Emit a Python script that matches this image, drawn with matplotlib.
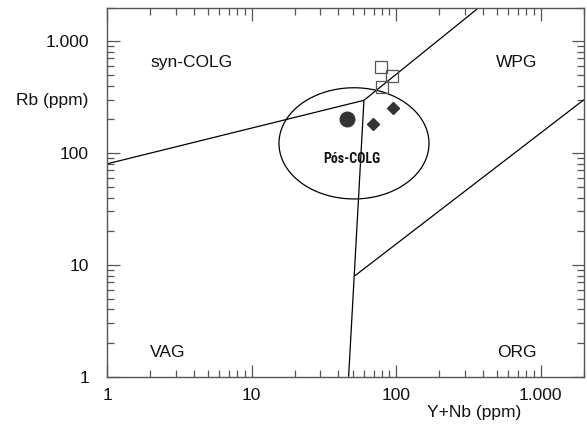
import numpy as np
import matplotlib
matplotlib.use("Agg")
import matplotlib.pyplot as plt
from matplotlib import font_manager as fm
from matplotlib.patches import Polygon
from matplotlib.ticker import FixedLocator, LogLocator, NullFormatter

plt.rcParams['font.family'] = ['Liberation Sans', 'DejaVu Sans']

# ---- data ----
x_ticks = [1, 10, 100, 1000]
x_ticklabels = ["1", "10", "100", "1.000"]
y_ticks = [1, 10, 100, 1000]
y_ticklabels = ["1", "10", "100", "1.000"]

# field boundaries (Y+Nb, Rb)
syn_vag_x = [1, 60]
syn_vag_y = [80, 296]
vag_wpg_x = [60, 375]
vag_wpg_y = [296, 2000]
vag_org_x = [60, 47]
vag_org_y = [296, 1]
wpg_org_x = [52, 2000]
wpg_org_y = [8, 300]

# post-COLG ellipse (centre, semi-axes in decades)
ell_cx, ell_cy = 51.2, 122.0
ell_ax, ell_ay = 0.519, 0.497

circle_x = [45.8]
circle_y = [203]
diamond_x = [69, 95]
diamond_y = [183, 251]
square_x = [78.4, 93.4, 79.6]
square_y = [589, 485, 390]

# ---- figure ----
W, H = 587, 425
fig = plt.figure(figsize=(W / 100, H / 100), dpi=100)
ax = fig.add_axes([107 / W, 1 - 376.7 / H, (584 - 107) / W, (376.7 - 7.5) / H])
ax.set_xscale('log')
ax.set_yscale('log')
ax.set_xlim(1, 2000)
ax.set_ylim(1, 2000)

lw = 0.9
for xs, ys in [(syn_vag_x, syn_vag_y), (vag_wpg_x, vag_wpg_y),
               (vag_org_x, vag_org_y), (wpg_org_x, wpg_org_y)]:
    ax.plot(xs, ys, color='black', lw=lw, solid_capstyle='butt')

t = np.linspace(0, 2 * np.pi, 400, endpoint=False)
ex = 10 ** (np.log10(ell_cx) + ell_ax * np.cos(t))
ey = 10 ** (np.log10(ell_cy) + ell_ay * np.sin(t))
ax.add_patch(Polygon(np.column_stack([ex, ey]), closed=True, fill=False,
                     edgecolor='black', lw=lw))

ax.plot(circle_x, circle_y, 'o', color='#333333', markersize=10.5, zorder=5)
ax.plot(diamond_x, diamond_y, 'D', color='#333333', markersize=6.2, zorder=5)
ax.plot(square_x, square_y, 's', markerfacecolor='none', markeredgecolor='#555555',
        markeredgewidth=0.9, markersize=9.3, zorder=6)

fs = 12.5
def px2data(px, py):
    lx = (px - 107) / 144.5
    ly = (376.7 - py) / 111.7
    return 10 ** lx, 10 ** ly

for label, px, py, ha in [("syn-COLG", 150, 63, 'left'), ("WPG", 496, 63, 'left'),
                          ("VAG", 150, 353, 'left'), ("ORG", 497, 353, 'left')]:
    dx, dy = px2data(px, py)
    ax.text(dx, dy, label, fontsize=fs, ha=ha, va='center', color='#111111')

names = {f.name for f in fm.fontManager.ttflist}
cond = None
for cand in ['Liberation Sans Narrow', 'DejaVu Sans Condensed', 'Roboto Condensed']:
    if cand in names:
        cond = cand
        break
dx, dy = px2data(352, 159)
if cond:
    ax.text(dx, dy, "Pós-COLG", fontsize=10, ha='center', va='center',
            family=[cond, 'DejaVu Sans'], fontweight='bold', color='#111111')
else:
    ax.text(dx, dy, "Pós-COLG", fontsize=9, ha='center', va='center',
            fontweight='bold', color='#111111')

ax.xaxis.set_major_locator(FixedLocator(x_ticks))
ax.set_xticklabels(x_ticklabels)
ax.yaxis.set_major_locator(FixedLocator(y_ticks))
ax.set_yticklabels(y_ticklabels)
ax.xaxis.set_minor_locator(LogLocator(base=10, subs=np.arange(2, 10)))
ax.yaxis.set_minor_locator(LogLocator(base=10, subs=np.arange(2, 10)))
ax.xaxis.set_minor_formatter(NullFormatter())
ax.yaxis.set_minor_formatter(NullFormatter())

spc = '#555555'
for s in ax.spines.values():
    s.set_color(spc)
    s.set_linewidth(1.0)
ax.tick_params(which='both', direction='in', top=True, right=True, color=spc,
               width=0.9, labelsize=fs, labelcolor='#111111')
ax.tick_params(which='major', length=9, pad=8)
ax.tick_params(which='minor', length=5)
ax.tick_params(axis='y', which='major', pad=13)

fig.text(52.5 / W, 1 - 100 / H, "Rb (ppm)", fontsize=fs, ha='center', va='center', color='#111111')
fig.text(474.5 / W, 1 - 413 / H, "Y+Nb (ppm)", fontsize=fs, ha='center', va='center', color='#111111')

fig.savefig("out.png", dpi=100)
